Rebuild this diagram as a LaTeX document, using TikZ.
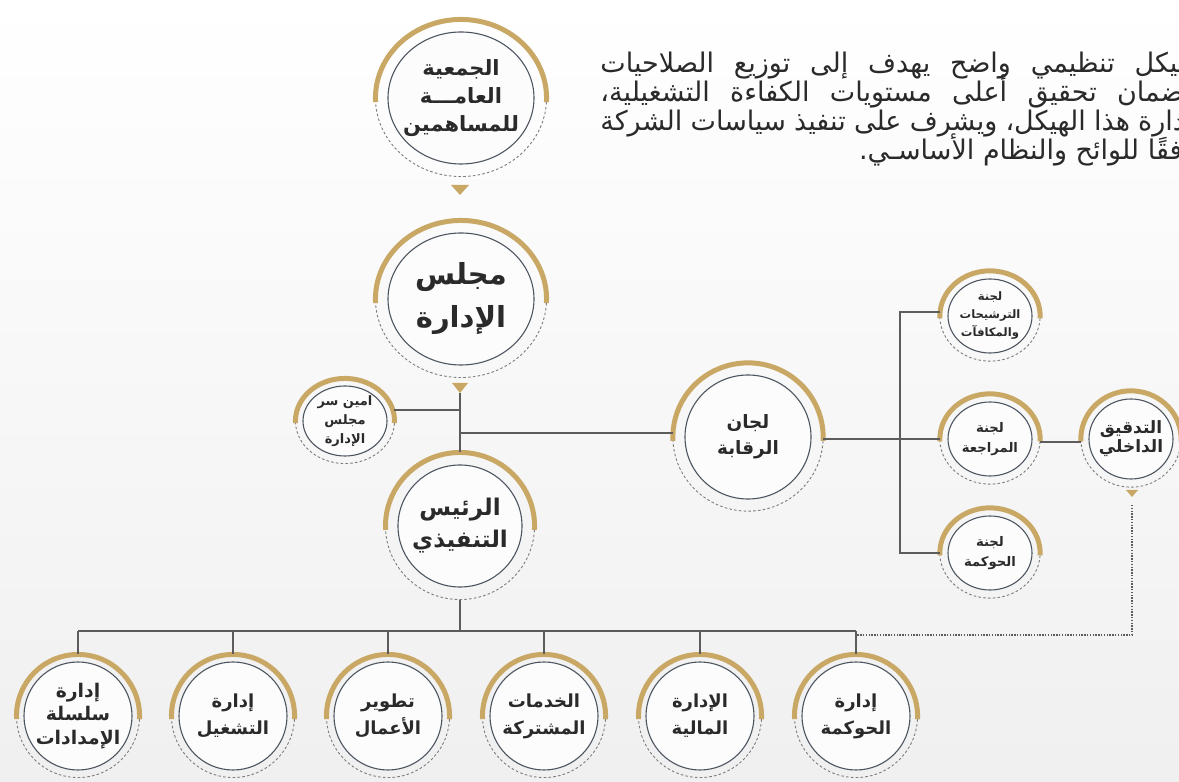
\documentclass[tikz,border=0pt]{standalone}
\usepackage{fontspec}
\usetikzlibrary{shapes.geometric, calc}
\newfontfamily\arabicfont[Script=Arabic]{DejaVu Sans}
\TeXXeTstate=1
\newcommand{\artxt}[1]{\beginR #1\endR}
\newcommand{\arsize}[2]{\arabicfont\bfseries\fontsize{#1}{#2}\selectfont}
\newcommand{\parline}[1]{\hbox to 296pt{\spaceskip=.28em plus 1.5em minus .12em\relax\beginR #1\endR}}
\definecolor{gold}{HTML}{C9A865}
\definecolor{linegray}{HTML}{5C5C5C}
\definecolor{ringgray}{HTML}{4D5660}
\definecolor{inkgray}{HTML}{2A2A2A}
\tikzset{
	unit/.style={ellipse, draw=ringgray, line width=0.55pt, fill=white!70!black!4, inner sep=0pt},
	tag/.style={align=center, text=inkgray, inner sep=0pt},
	introline/.style={anchor=base west, inner sep=0pt, text=inkgray, font=\arabicfont\fontsize{13.5}{14.5}\selectfont},
	conn/.style={draw=linegray, line width=0.7pt},
	dotconn/.style={draw=linegray, line width=0.9pt, dash pattern=on 0.7pt off 0.7pt},
	goldband/.style={draw=gold, line width=2.5pt},
	dashring/.style={draw=linegray!80, line width=0.45pt, dash pattern=on 1.3pt off 1.1pt},
	marker/.style={fill=gold}
}
% gold arc on top, dashed arc underneath
\newcommand{\ring}[2]{%
	\draw[goldband] let \p1=($(#1.east)-(#1.center)$), \p2=($(#1.north)-(#1.center)$) in
		($(#1.center)+(-3:{\x1+#2} and {\y2+#2})$) arc[start angle=-3, end angle=183, x radius=\x1+#2, y radius=\y2+#2];
	\draw[dashring] let \p1=($(#1.east)-(#1.center)$), \p2=($(#1.north)-(#1.center)$) in
		($(#1.center)+(-3:{\x1+#2} and {\y2+#2})$) arc[start angle=-3, end angle=-177, x radius=\x1+#2, y radius=\y2+#2];
}

\begin{document}
\begin{tikzpicture}[x=0.5pt, y=0.5pt]
	\useasboundingbox (0,0) rectangle (1179,782);
	\shade[top color=white, middle color=black!9, bottom color=black!6] (0,0) rectangle (1179,782);

	\begin{scope}
	\clip (0,0) rectangle (1179,782);
	\node[introline] (intro1) at (600,709) {\parline{هيكل تنظيمي واضح يهدف إلى توزيع الصلاحيات}};
	\node[introline] (intro2) at (600,680) {\parline{لضمان تحقيق أعلى مستويات الكفاءة التشغيلية،}};
	\node[introline] (intro3) at (600,651) {\parline{إدارة هذا الهيكل، ويشرف على تنفيذ سياسات الشركة}};
	\node[introline, anchor=base east] (intro4) at (1196,622) {\beginR وفقًا للوائح والنظام الأساسـي.\endR};
	\end{scope}

	\node[unit, minimum width=73pt, minimum height=66pt, label={[tag, font=\arsize{10.5}{14}]center:{\artxt{الجمعية}\\\artxt{العامـــة}\\\artxt{للمساهمين}}}] (gam) at (461,684) {};
	\node[unit, minimum width=73pt, minimum height=66pt, label={[tag, font=\arsize{14.5}{21.5}]center:{\artxt{مجلس}\\\artxt{الإدارة}}}] (board) at (461,483) {};
	\node[unit, minimum width=42pt, minimum height=35pt, label={[tag, font=\arsize{6.5}{9.5}]center:{\beginR امين سر\endR\\\artxt{مجلس}\\\artxt{الإدارة}}}] (sec) at (345,361) {};
	\node[unit, minimum width=63pt, minimum height=62pt, label={[tag, font=\arsize{9.2}{13}]center:{\artxt{لجان}\\\artxt{الرقابة}}}] (ctrl) at (748,345) {};
	\node[unit, minimum width=62pt, minimum height=61pt, label={[tag, font=\arsize{11.5}{16}]center:{\artxt{الرئيس}\\\artxt{التنفيذي}}}] (ceo) at (460,256) {};

	\node[unit, minimum width=42pt, minimum height=37pt, label={[tag, font=\arsize{5.8}{9}]center:{\artxt{لجنة}\\\artxt{الترشيحات}\\\artxt{والمكافآت}}}] (nom) at (990,466) {};
	\node[unit, minimum width=42pt, minimum height=37pt, label={[tag, font=\arsize{6.6}{10}]center:{\artxt{لجنة}\\\artxt{المراجعة}}}] (audc) at (990,343) {};
	\node[unit, minimum width=42pt, minimum height=37pt, label={[tag, font=\arsize{6.6}{10}]center:{\artxt{لجنة}\\\artxt{الحوكمة}}}] (govc) at (990,229) {};
	\node[unit, minimum width=42pt, minimum height=40pt, label={[tag, font=\arsize{8.5}{9.5}]center:{\artxt{التدقيق}\\\artxt{الداخلي}}}] (ia) at (1131,343) {};

	\node[unit, minimum size=54pt, label={[tag, font=\arsize{9.4}{11.8}]center:{\artxt{إدارة}\\\artxt{سلسلة}\\\artxt{الإمدادات}}}] (supply) at (78,66) {};
	\node[unit, minimum size=54pt, label={[tag, font=\arsize{9}{13.5}]center:{\artxt{إدارة}\\\artxt{التشغيل}}}] (ops) at (233,66) {};
	\node[unit, minimum size=54pt, label={[tag, font=\arsize{9}{13.5}]center:{\artxt{تطوير}\\\artxt{الأعمال}}}] (bizdev) at (388,66) {};
	\node[unit, minimum size=54pt, label={[tag, font=\arsize{9}{13.5}]center:{\artxt{الخدمات}\\\artxt{المشتركة}}}] (shared) at (544,66) {};
	\node[unit, minimum size=54pt, label={[tag, font=\arsize{9}{13.5}]center:{\artxt{الإدارة}\\\artxt{المالية}}}] (fin) at (700,66) {};
	\node[unit, minimum size=54pt, label={[tag, font=\arsize{9}{13.5}]center:{\artxt{إدارة}\\\artxt{الحوكمة}}}] (gov) at (856,66) {};

	\foreach \nd/\g in {gam/6pt, board/6pt, ceo/6pt, ctrl/5.8pt, sec/3.5pt, nom/3.8pt, audc/3.8pt, govc/3.8pt, ia/3.8pt, supply/3.5pt, ops/3.5pt, bizdev/3.5pt, shared/3.5pt, fin/3.5pt, gov/3.5pt}
		\ring{\nd}{\g};

	% down markers
	\coordinate (gamtip) at (460,587);
	\coordinate (boardtip) at (460,389);
	\coordinate (iatip) at (1132,285);
	\fill[marker] (gamtip) -- ++(-9,10) -- ++(18,0) -- cycle;
	\fill[marker] (boardtip) -- ++(-8,10) -- ++(16,0) -- cycle;
	\fill[marker] (iatip) -- ++(-6,7) -- ++(12,0) -- cycle;

	% board -> ceo, secretary, controls
	\coordinate (j1) at (460,372);
	\coordinate (j2) at (460,349);
	\coordinate (secE) at ($(sec.east)+(3pt,0)$);
	\coordinate (ctrlW) at ($(ctrl.west)+(-5.8pt,0)$);
	\coordinate (ctrlE) at ($(ctrl.east)+(5.8pt,0)$);
	\draw[conn] (boardtip) -- ($(ceo.north)+(0,6pt)$);
	\draw[conn] (j1) -- (j1 -| secE);
	\draw[conn] (j2) -- (j2 -| ctrlW);

	% committees
	\coordinate (br) at (900,343);
	\coordinate (nomW) at ($(nom.west)+(-3.8pt,2pt)$);
	\coordinate (audW) at ($(audc.west)+(-3.8pt,0)$);
	\coordinate (govW) at ($(govc.west)+(-3.8pt,0)$);
	\draw[conn] (ctrlE |- br) -- (audW);
	\draw[conn] (nomW) -- (nomW -| br) -- (govW -| br) -- (govW);
	\coordinate (audE) at ($(audc.east)+(3.8pt,-1.5pt)$);
	\coordinate (iaW) at ($(ia.west)+(-3.8pt,0)$);
	\draw[conn] (audE) -- (audE -| iaW);

	% ceo -> departments
	\coordinate (bus) at (0,151);
	\draw[conn] ($(ceo.south)+(0,-6pt)$) -- (ceo |- bus);
	\draw[conn] (supply |- bus) -- (gov |- bus);
	\foreach \nd in {supply, ops, bizdev, shared, fin, gov}
		\draw[conn] ($(\nd.north)+(0,3.5pt)$) -- (\nd |- bus);

	% internal audit -> governance department
	\coordinate (dotbus) at (0,147);
	\draw[dotconn] ($(iatip)+(0,-8)$) -- (iatip |- dotbus) -- (gov |- dotbus);
\end{tikzpicture}
\end{document}
